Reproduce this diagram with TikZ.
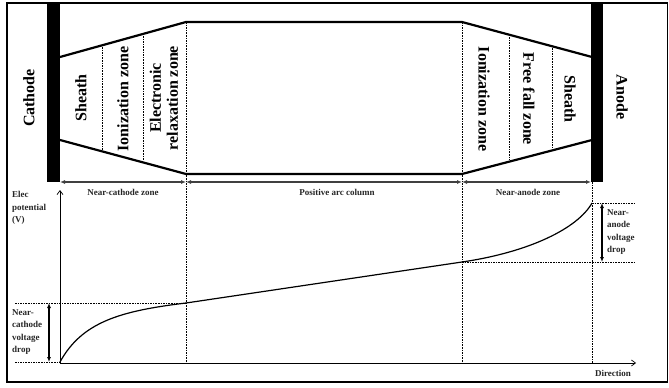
\documentclass[tikz,border=0pt]{standalone}
\usepackage{fontspec}
\setmainfont{Liberation Serif}
\usetikzlibrary{arrows.meta}
\begin{document}
\begin{tikzpicture}[x=1pt,y=-1pt,
  big/.style={font=\fontsize{16}{18}\selectfont\bfseries, inner sep=0pt, align=center},
  small/.style={font=\fontsize{9}{12.4}\selectfont\bfseries, inner sep=0pt, align=left, text=black!85},
  heavy/.style={line width=2.2pt, line join=round},
  guide/.style={line width=0.6pt, dash pattern=on 1.6pt off 1pt},
  dim/.style={line width=1.1pt, draw=black!75, {Latex[length=5pt,width=4pt]}-{Latex[length=5pt,width=4pt]}},
  axis/.style={line width=0.7pt, -{Straight Barb[length=4pt,width=6pt]}},
  curve/.style={line width=1.2pt},
]
\useasboundingbox (0,0) rectangle (669,388);
\draw[line width=1.5pt] (7,3) rectangle (667.5,382);

% electrodes
\fill (47,3) rectangle (60,182);
\fill (591,3) rectangle (603,182);

% arc outline
\coordinate (c1) at (60,57);
\coordinate (c2) at (186,22);
\coordinate (c3) at (186,174);
\coordinate (c4) at (60,140);
\coordinate (a1) at (592,57);
\coordinate (a2) at (462,22);
\coordinate (a3) at (462,174);
\coordinate (a4) at (592,140);
\draw[heavy] (c1) -- (c2) -- (a2) -- (a1);
\draw[heavy] (c4) -- (c3) -- (a3) -- (a4);

% zone separators
\coordinate (s1t) at (102,47);  \coordinate (s1b) at (102,150);
\coordinate (s2t) at (143,36);  \coordinate (s2b) at (143,160);
\coordinate (s3t) at (509,37);  \coordinate (s3b) at (509,160);
\coordinate (s4t) at (552,48);  \coordinate (s4b) at (552,149);
\draw[guide] (s1t) -- (s1b);
\draw[guide] (s2t) -- (s2b);
\draw[guide] (s3t) -- (s3b);
\draw[guide] (s4t) -- (s4b);

% long separators
\coordinate (o) at (60,363);
\coordinate (b1) at (186,363);
\coordinate (b2) at (462,363);
\coordinate (b3) at (592,363);
\coordinate (t3) at (592,182);
\draw[guide] (c2) -- (b1);
\draw[guide] (a2) -- (b2);
\draw[guide] (t3) -- (b3);

% labels in arc
\node[big, rotate=90] (cat) at (29,98) {Cathode};
\node[big, rotate=90] (sh1) at (81,98) {Sheath};
\node[big, rotate=90] (io1) at (123,99) {Ionization zone};
\node[big, rotate=90] (el) at (164,98) {Electronic\\[-1pt]relaxation zone};
\node[big, rotate=-90] (io2) at (484,99) {Ionization zone};
\node[big, rotate=-90] (ff) at (529,99) {Free fall zone};
\node[big, rotate=-90] (sh2) at (570,99) {Sheath};
\node[big, rotate=-90] (an) at (622,97) {Anode};

% zone dimensions
\coordinate (d0) at (60,182);
\coordinate (d1) at (186,182);
\coordinate (d2) at (462,182);
\coordinate (d3) at (591,182);
\draw[dim] (d0) -- (d1);
\draw[dim] (d1) -- (d2);
\draw[dim] (d2) -- (d3);
\node[small] (nc) at (123,192) {Near-cathode zone};
\node[small] (pc) at (337,192) {Positive arc column};
\node[small] (na) at (528,192) {Near-anode zone};

% axes
\coordinate (ytop) at (60,190);
\coordinate (xend) at (636,363);
\draw[axis] (o) -- (ytop);
\draw[axis] (o) -- (xend);
\node[small, anchor=west] (yl) at (12,208) {Elec\\potential\\(V)};
\node[small] (xl) at (613,373) {Direction};

% potential curve
\coordinate (p0) at (60,362);
\coordinate (p1) at (186,303);
\coordinate (p2) at (462,262);
\coordinate (p3) at (592,203);
\draw[curve] (p0) .. controls (82,322) and (120,311) .. (p1) -- (p2)
  .. controls (530,252) and (578,228) .. (p3);

% voltage drop guides
\coordinate (h1) at (15,303);
\coordinate (h2) at (15,362);
\coordinate (h3) at (636,203);
\coordinate (h4) at (636,262);
\draw[guide] (h1) -- (p1);
\draw[guide] (h2) -- (p0);
\draw[guide] (p3) -- (h3);
\draw[guide] (p2) -- (h4);

\coordinate (v1) at (49,303);
\coordinate (v2) at (49,362);
\coordinate (v3) at (602,203);
\coordinate (v4) at (602,262);
\draw[dim, draw=black] (v1) -- (v2);
\draw[dim, draw=black] (v3) -- (v4);
\node[small, anchor=west] (ncl) at (12,332) {Near-\\cathode\\voltage\\drop};
\node[small, anchor=west] (nal) at (607,232) {Near-\\anode\\voltage\\drop};
\end{tikzpicture}
\end{document}
